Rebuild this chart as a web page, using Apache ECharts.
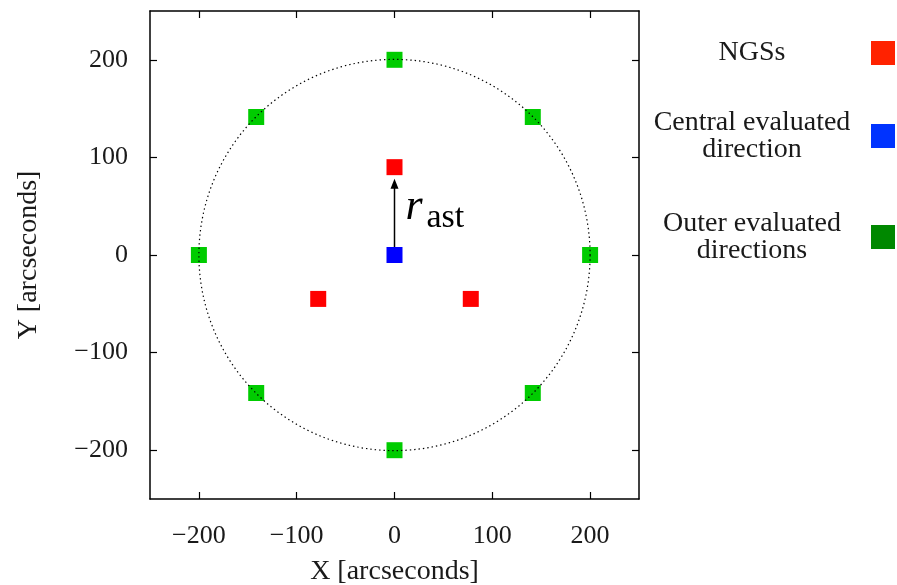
<!DOCTYPE html>
<html>
<head>
<meta charset="utf-8">
<script src="https://cdn.jsdelivr.net/npm/echarts@6/dist/echarts.min.js"></script>
<style>
  html, body { margin: 0; padding: 0; background: #fff; }
  #chart { width: 897px; height: 585px; }
</style>
</head>
<body>
<div id="chart"></div>
<script>
// Axis ticks (arcseconds)
const tickValues = [-200, -100, 0, 100, 200];
const axisMin = -250;
const axisMax = 250;

// Natural guide stars
const ngsPoints = [[0, 90], [-78, -45], [78, -45]];
// Central evaluated direction
const centralPoints = [[0, 0]];
// Outer evaluated directions on the 200" ring
const outerPoints = [
  [0, 200], [141.4, 141.4], [200, 0], [141.4, -141.4],
  [0, -200], [-141.4, -141.4], [-200, 0], [-141.4, 141.4]
];
// Radius of the dotted ring through the outer directions
const ringRadius = [[0, 0, 200]];
// Asterism radius arrow: from the centre up towards the top NGS
const arrowSegment = [[0, 0, 0, 78]];

// Legend entries
const legendLabels = ['NGSs', 'Central evaluated\ndirection', 'Outer evaluated\ndirections'];
const legendColors = ['#ff2200', '#0033ff', '#008800'];

const FONT = '"Liberation Serif", "DejaVu Serif", serif';
const TEXT_COLOR = '#1a1a1a';

const chart = echarts.init(document.getElementById('chart'), null, { renderer: 'canvas' });

function frameAxis(pos, isX, showLabel, name) {
  const ax = {
    type: 'value',
    position: pos,
    min: axisMin,
    max: axisMax,
    splitLine: { show: false },
    axisLine: { show: true, onZero: false, lineStyle: { color: '#000', width: 1.5 } },
    axisTick: { show: true, inside: true, length: 7, customValues: tickValues,
                lineStyle: { color: '#000', width: 1.2 } },
    axisLabel: { show: showLabel, customValues: tickValues, color: TEXT_COLOR,
                 fontFamily: FONT, fontSize: 26, margin: isX ? 24 : 22,
                 formatter: v => (v < 0 ? '\u2212' + Math.abs(v) : String(v)) }
  };
  if (name) {
    ax.name = name;
    ax.nameLocation = 'middle';
    ax.nameGap = isX ? 59 : 107;
    ax.nameTextStyle = { color: TEXT_COLOR, fontFamily: FONT, fontSize: 28 };
  }
  return ax;
}

const legendGraphics = [];
const legendTextY = [53, 136, 237];
legendLabels.forEach((t, i) => {
  legendGraphics.push({
    type: 'text', x: 752, y: legendTextY[i],
    style: { text: t, font: '28px ' + FONT, fill: TEXT_COLOR, textAlign: 'center',
             textVerticalAlign: 'middle', lineHeight: 27 }
  });
  legendGraphics.push({
    type: 'rect', shape: { x: 871, y: legendTextY[i] - 12, width: 24, height: 24 },
    style: { fill: legendColors[i] }
  });
});

const option = {
  backgroundColor: '#fff',
  animation: false,
  grid: { left: 150, right: 258, top: 11, bottom: 86, outerBoundsMode: 'none', containLabel: false },
  xAxis: [frameAxis('bottom', true, true, 'X [arcseconds]'), frameAxis('top', true, false)],
  yAxis: [frameAxis('left', false, true, 'Y [arcseconds]'), frameAxis('right', false, false)],
  graphic: legendGraphics,
  series: [
    {
      name: 'Outer evaluated directions', type: 'scatter', data: outerPoints,
      symbol: 'rect', symbolSize: 16, itemStyle: { color: '#00cc00', opacity: 1 }, z: 2
    },
    {
      name: 'ring', type: 'custom', data: ringRadius, z: 3, silent: true,
      renderItem: (params, api) => {
        const c = api.coord([api.value(0), api.value(1)]);
        const r = api.size([api.value(2), 0])[0];
        return {
          type: 'circle', shape: { cx: c[0], cy: c[1], r: r },
          style: { fill: null, stroke: '#000', lineWidth: 1.2, lineDash: [1.4, 3] }
        };
      }
    },
    {
      name: 'NGSs', type: 'scatter', data: ngsPoints,
      symbol: 'rect', symbolSize: 16, itemStyle: { color: '#ff0000', opacity: 1 }, z: 4
    },
    {
      name: 'arrow', type: 'custom', data: arrowSegment, z: 4, silent: true,
      renderItem: (params, api) => {
        const p0 = api.coord([api.value(0), api.value(1)]);
        const p1 = api.coord([api.value(2), api.value(3)]);
        const head = 10, half = 4;
        const mid = (p0[1] + p1[1]) / 2;
        return {
          type: 'group',
          children: [
            { type: 'line', shape: { x1: p0[0], y1: p0[1], x2: p1[0], y2: p1[1] + head - 1 },
              style: { stroke: '#000', lineWidth: 1.5 } },
            { type: 'polygon',
              shape: { points: [[p1[0], p1[1]], [p1[0] - half, p1[1] + head], [p1[0] + half, p1[1] + head]] },
              style: { fill: '#000' } },
            { type: 'text', x: p1[0] + 11, y: mid - 9,
              style: { text: 'r', font: 'italic 44px ' + FONT, fill: '#000',
                       textVerticalAlign: 'middle' } },
            { type: 'text', x: p1[0] + 32, y: mid + 1,
              style: { text: 'ast', font: '34px ' + FONT, fill: '#000',
                       textVerticalAlign: 'middle' } }
          ]
        };
      }
    },
    {
      name: 'Central evaluated direction', type: 'scatter', data: centralPoints,
      symbol: 'rect', symbolSize: 16, itemStyle: { color: '#0000ff', opacity: 1 }, z: 5
    }
  ]
};

chart.setOption(option);
</script>
</body>
</html>
